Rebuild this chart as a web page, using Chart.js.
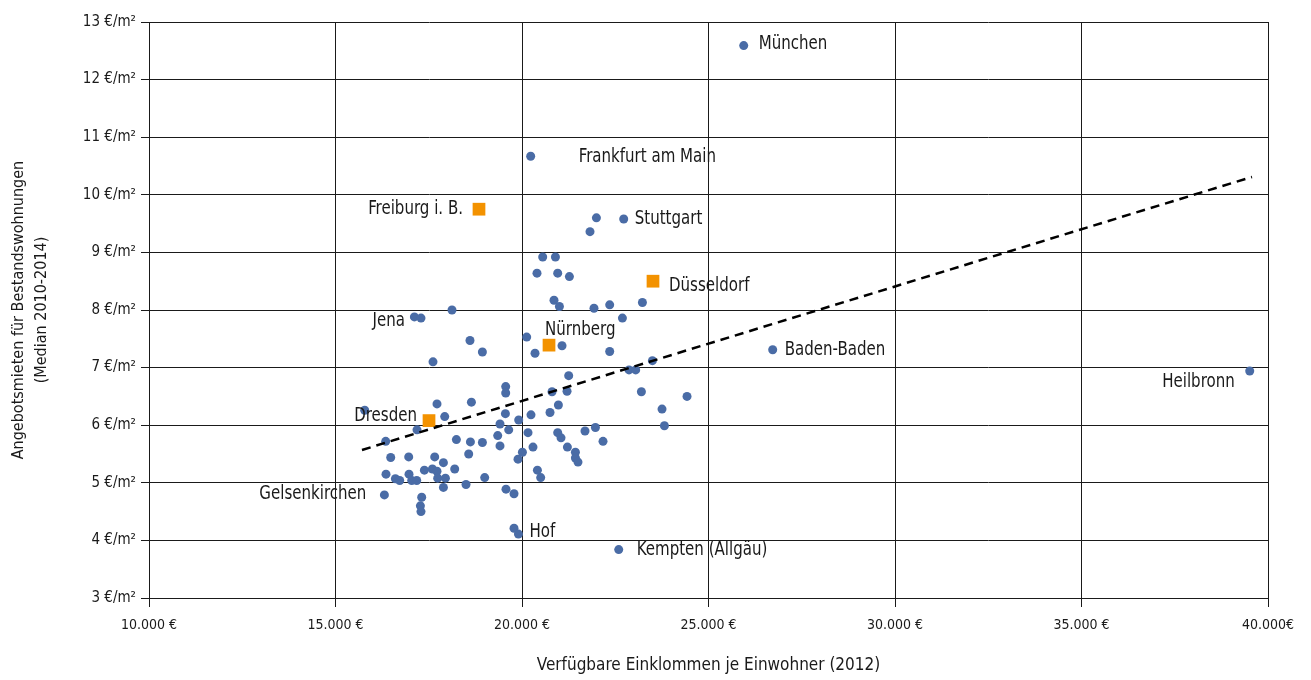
<!DOCTYPE html>
<html lang="de">
<head>
    <meta charset="UTF-8">
    <title>Angebotsmieten und Einkommen</title>
    <script src="https://cdn.jsdelivr.net/npm/chart.js"></script>
    <style>
        body { margin: 0; padding: 0; background: #ffffff; }
        #wrap { width: 1311px; height: 680px; }
    </style>
</head>
<body>
    <div id="wrap"><canvas id="rentChart" width="1311" height="680"></canvas></div>
    <script>
        // axis ticks
        const xTickLabels = ['10.000 €', '15.000 €', '20.000 €', '25.000 €', '30.000 €', '35.000 €', '40.000€'];
        const yTickLabels = ['3 €/m²', '4 €/m²', '5 €/m²', '6 €/m²', '7 €/m²', '8 €/m²', '9 €/m²', '10 €/m²', '11 €/m²', '12 €/m²', '13 €/m²'];

        // unlabeled cities: income (x) and rent (y)
        const otherX = [17614, 15783, 17721, 18644, 17928, 17185, 16346, 19563, 19563, 20805,
            19555, 19410, 19644, 19912, 20241, 20751, 20161, 20957, 21046, 18241,
            18617, 18938, 19349, 19410, 20295, 20011, 19893, 16480, 16963, 17660,
            18571, 17893, 18196, 17383, 17598, 17721, 16354, 16971, 16606, 16721,
            17043, 17177, 17740, 17947, 19000, 17893, 18499, 20413, 20501, 17311,
            17276, 17292, 19571, 19786, 19786, 21252, 21207, 22869, 23048, 23496,
            23201, 24424, 23754, 23818, 20976, 21689, 21968, 22172, 21217, 21432,
            21432, 21501, 21995, 21823, 20555, 20896, 20402, 20957, 21271, 20858,
            21003, 21930, 22351, 23228, 22692, 18123, 17115, 20126, 21073, 20349,
            22351, 18606, 18938];
        const otherY = [7.10, 6.26, 6.37, 6.40, 6.15, 5.92, 5.72, 6.67, 6.56, 6.58,
            6.20, 6.02, 5.92, 6.09, 6.18, 6.22, 5.87, 5.87, 5.78, 5.75,
            5.71, 5.70, 5.82, 5.64, 5.62, 5.53, 5.41, 5.44, 5.45, 5.45,
            5.50, 5.35, 5.24, 5.22, 5.24, 5.20, 5.15, 5.15, 5.07, 5.04,
            5.04, 5.04, 5.08, 5.08, 5.09, 4.92, 4.97, 5.22, 5.09, 4.75,
            4.60, 4.50, 4.89, 4.81, 4.21, 6.86, 6.59, 6.96, 6.96, 7.12,
            6.58, 6.50, 6.28, 5.99, 6.35, 5.90, 5.96, 5.72, 5.62, 5.53,
            5.43, 5.36, 9.60, 9.36, 8.92, 8.92, 8.64, 8.64, 8.58, 8.17,
            8.06, 8.03, 8.09, 8.13, 7.86, 8.00, 7.88, 7.53, 7.38, 7.25,
            7.28, 7.47, 7.27];

        // labeled cities (blue)
        const namedCities = ['München', 'Frankfurt am Main', 'Stuttgart', 'Jena', 'Baden-Baden', 'Heilbronn', 'Gelsenkirchen', 'Hof', 'Kempten (Allgäu)'];
        const namedX = [25944, 20233, 22727, 17292, 26721, 39510, 16311, 19904, 22593];
        const namedY = [12.59, 10.67, 9.58, 7.86, 7.31, 6.94, 4.79, 4.11, 3.84];

        // highlighted cities (orange)
        const focusCities = ['Freiburg i. B.', 'Düsseldorf', 'Nürnberg', 'Dresden'];
        const focusX = [18847, 23512, 20724, 17507];
        const focusY = [9.75, 8.50, 7.39, 6.08];

        // linear trend
        const trendX = [15710, 39571];
        const trendY = [5.57, 10.31];

        const FONT = "'Liberation Sans Narrow', 'Arial Narrow', 'DejaVu Sans Condensed', sans-serif";
        const toPoints = (xs, ys) => xs.map((x, i) => ({ x: x, y: ys[i] }));

        // where each city name sits relative to its marker (px)
        const labelLayout = {
            'München': { dx: 15, dy: -2, align: 'left' },
            'Frankfurt am Main': { dx: 48, dy: 1, align: 'left' },
            'Stuttgart': { dx: 11, dy: 0, align: 'left' },
            'Jena': { dx: -16, dy: 3, align: 'right' },
            'Baden-Baden': { dx: 12, dy: 0, align: 'left' },
            'Heilbronn': { dx: -15, dy: 11, align: 'right' },
            'Gelsenkirchen': { dx: -18, dy: -1, align: 'right' },
            'Hof': { dx: 11, dy: -2, align: 'left' },
            'Kempten (Allgäu)': { dx: 18, dy: 0, align: 'left' },
            'Freiburg i. B.': { dx: -16, dy: 0, align: 'right' },
            'Düsseldorf': { dx: 16, dy: 5, align: 'left' },
            'Nürnberg': { dx: -4, dy: -15, align: 'left' },
            'Dresden': { dx: -12, dy: -5, align: 'right' }
        };

        // the source uses a condensed face; squeeze the fallback horizontally
        const squeeze = 0.88;

        const cityLabels = {
            id: 'cityLabels',
            afterDatasetsDraw(chart) {
                const ctx = chart.ctx;
                const xs = chart.scales.x, ys = chart.scales.y;
                const put = (names, xv, yv) => names.forEach((name, i) => {
                    const l = labelLayout[name];
                    ctx.save();
                    ctx.translate(xs.getPixelForValue(xv[i]) + l.dx, ys.getPixelForValue(yv[i]) + l.dy);
                    ctx.scale(squeeze, 1);
                    ctx.font = '19px ' + FONT;
                    ctx.fillStyle = '#1a1a1a';
                    ctx.textBaseline = 'middle';
                    ctx.textAlign = l.align;
                    ctx.fillText(name, 0, 0);
                    ctx.restore();
                });
                put(namedCities, namedX, namedY);
                put(focusCities, focusX, focusY);
            }
        };

        const blue = '#4a6ca6';
        const orange = '#f39200';

        new Chart(document.getElementById('rentChart').getContext('2d'), {
            type: 'scatter',
            data: {
                datasets: [
                    {
                        type: 'line',
                        data: toPoints(trendX, trendY),
                        borderColor: '#000000',
                        borderWidth: 2.5,
                        borderDash: [9, 6],
                        pointRadius: 0,
                        fill: false
                    },
                    {
                        data: toPoints(focusX, focusY),
                        pointStyle: 'rect',
                        pointRadius: 9,
                        backgroundColor: orange,
                        borderWidth: 0
                    },
                    {
                        data: toPoints(namedX, namedY),
                        pointRadius: 4.5,
                        backgroundColor: blue,
                        borderWidth: 0
                    },
                    {
                        data: toPoints(otherX, otherY),
                        pointRadius: 4.5,
                        backgroundColor: blue,
                        borderWidth: 0
                    }
                ]
            },
            options: {
                responsive: false,
                animation: false,
                layout: { padding: { top: 22, right: 43, left: 0, bottom: 0 } },
                plugins: { legend: { display: false }, tooltip: { enabled: false } },
                scales: {
                    x: {
                        type: 'linear',
                        min: 10000,
                        max: 40000,
                        afterFit: s => { s.height = 82; },
                        ticks: {
                            stepSize: 5000,
                            autoSkip: false,
                            maxRotation: 0,
                            padding: 10,
                            color: '#1a1a1a',
                            font: { family: FONT, size: 14 },
                            callback: v => xTickLabels[(v - 10000) / 5000]
                        },
                        grid: { color: '#1a1a1a', lineWidth: 1, tickLength: 9 },
                        border: { color: '#1a1a1a' },
                        title: {
                            display: true,
                            text: 'Verfügbare Einklommen je Einwohner (2012)',
                            color: '#1a1a1a',
                            font: { family: FONT, size: 17 },
                            padding: { top: 0, bottom: 4 }
                        }
                    },
                    y: {
                        min: 3,
                        max: 13,
                        afterFit: s => { s.width = 149; },
                        ticks: {
                            stepSize: 1,
                            padding: 5,
                            color: '#1a1a1a',
                            font: { family: FONT, size: 15 },
                            callback: v => yTickLabels[v - 3]
                        },
                        grid: { color: '#1a1a1a', lineWidth: 1, tickLength: 8 },
                        border: { color: '#1a1a1a' },
                        title: {
                            display: true,
                            text: ['Angebotsmieten für Bestandswohnungen', '(Median 2010-2014)'],
                            color: '#1a1a1a',
                            font: { family: FONT, size: 16, lineHeight: '23px' },
                            padding: { top: 7, bottom: 0 }
                        }
                    }
                }
            },
            plugins: [cityLabels]
        });
    </script>
</body>
</html>
